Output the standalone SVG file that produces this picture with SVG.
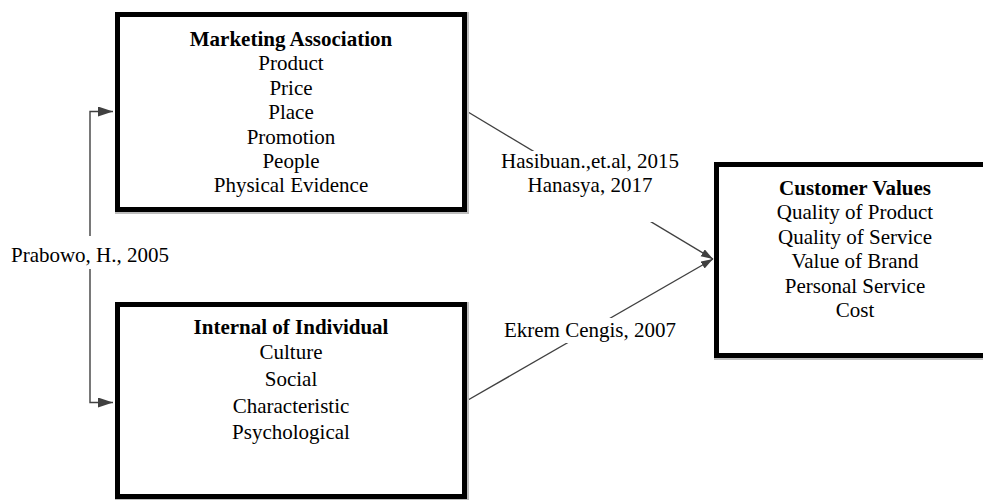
<svg xmlns="http://www.w3.org/2000/svg" width="983" height="500" viewBox="0 0 983 500">
  <style>
    .box { fill: #ffffff; stroke: #000000; stroke-width: 5; }
    .shadow { fill: none; stroke: #bdbdbd; stroke-width: 2; }
    text { font-family: 'Liberation Serif', 'DejaVu Serif', serif; font-size: 21px; fill: #000; text-anchor: middle; }
    .b { font-weight: bold; }
    .conn { fill: none; stroke: #404040; stroke-width: 1.4; }
    .mask { fill: #ffffff; stroke: none; }
  </style>
  <defs>
    <marker id="arrowL" markerUnits="userSpaceOnUse" markerWidth="16" markerHeight="11" refX="15" refY="5" orient="auto-start-reverse">
      <path d="M0,0 L15,5 L0,10 z" fill="#404040"/>
    </marker>
    <marker id="arrowR" markerUnits="userSpaceOnUse" markerWidth="13" markerHeight="9" refX="12" refY="4" orient="auto">
      <path d="M0,0 L12,4 L0,8 z" fill="#404040"/>
    </marker>
  </defs>
  <rect width="983" height="500" fill="#ffffff"/>

  <g id="connectors">
    <path class="conn" d="M113,111.5 H90 V402.5 H113" marker-start="url(#arrowL)" marker-end="url(#arrowL)"/>
    <line class="conn" x1="468" y1="112" x2="713" y2="259" marker-end="url(#arrowR)"/>
    <line class="conn" x1="468" y1="400" x2="713" y2="259" marker-end="url(#arrowR)"/>
    <rect class="mask" x="488" y="151" width="200" height="71"/>
    <rect class="mask" x="500" y="318" width="180" height="25"/>
    <rect class="mask" x="6" y="236" width="170" height="33"/>
    <g id="label-prabowo"><text x="90" y="262" font-family="Liberation Serif, serif">Prabowo, H., 2005</text></g>
    <g id="label-hasibuan">
      <text x="590" y="168" font-family="Liberation Serif, serif">Hasibuan.,et.al, 2015</text>
      <text x="590" y="192" font-family="Liberation Serif, serif">Hanasya, 2017</text>
    </g>
    <g id="label-ekrem"><text x="590" y="337" font-family="Liberation Serif, serif">Ekrem Cengis, 2007</text></g>
  </g>

  <g id="node-marketing" font-family="Liberation Serif, serif">
    <rect class="shadow" x="116" y="13" width="352" height="200"/>
    <rect class="box" x="117.5" y="14.5" width="347" height="195"/>
    <text class="b" x="291" y="45.5">Marketing Association</text>
    <text x="291" y="70">Product</text>
    <text x="291" y="94.5">Price</text>
    <text x="291" y="119">Place</text>
    <text x="291" y="143.5">Promotion</text>
    <text x="291" y="168">People</text>
    <text x="291" y="192">Physical Evidence</text>
  </g>

  <g id="node-internal">
    <rect class="shadow" x="116" y="303" width="352" height="197"/>
    <rect class="box" x="117.5" y="304.5" width="347" height="192"/>
    <text class="b" x="291" y="334">Internal of Individual</text>
    <text x="291" y="359">Culture</text>
    <text x="291" y="386">Social</text>
    <text x="291" y="412.5">Characteristic</text>
    <text x="291" y="439">Psychological</text>
  </g>

  <g id="node-customer">
    <rect class="shadow" x="715" y="163" width="300" height="196"/>
    <rect class="box" x="716.5" y="164.5" width="290" height="191"/>
    <text class="b" x="855" y="195">Customer Values</text>
    <text x="855" y="219">Quality of Product</text>
    <text x="855" y="243.5">Quality of Service</text>
    <text x="855" y="268">Value of Brand</text>
    <text x="855" y="293">Personal Service</text>
    <text x="855" y="317">Cost</text>
  </g>
</svg>
